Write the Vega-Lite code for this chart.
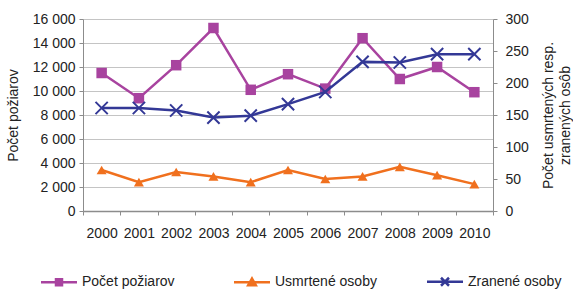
{
  "$schema": "https://vega.github.io/schema/vega-lite/v6.json",
  "width": 410,
  "height": 192,
  "padding": {"left": 6, "top": 12, "right": 0, "bottom": 0},
  "config": {
    "view": {"stroke": null},
    "font": "Liberation Sans",
    "axis": {
      "labelFont": "Liberation Sans",
      "labelFontSize": 14,
      "labelColor": "#222222",
      "titleFont": "Liberation Sans",
      "titleFontSize": 14,
      "titleFontWeight": "normal",
      "titleColor": "#222222",
      "domainColor": "#8c8c8c",
      "tickColor": "#8c8c8c",
      "gridColor": "#c4c4c4"
    },
    "legend": {
      "orient": "none",
      "legendX": -35.5,
      "legendY": 251,
      "direction": "horizontal",
      "gridAlign": "all",
      "symbolSize": 400,
      "symbolStrokeWidth": 2.5,
      "symbolOpacity": 1,
      "labelFont": "Liberation Sans",
      "labelFontSize": 14,
      "labelColor": "#222222",
      "columnPadding": 44,
      "labelOffset": 11.5,
      "padding": 0
    }
  },
  "data": {
    "values": [
      {"year": "2000", "series": "Počet požiarov", "value": 11500},
      {"year": "2001", "series": "Počet požiarov", "value": 9400},
      {"year": "2002", "series": "Počet požiarov", "value": 12150},
      {"year": "2003", "series": "Počet požiarov", "value": 15250},
      {"year": "2004", "series": "Počet požiarov", "value": 10100},
      {"year": "2005", "series": "Počet požiarov", "value": 11400},
      {"year": "2006", "series": "Počet požiarov", "value": 10200},
      {"year": "2007", "series": "Počet požiarov", "value": 14400},
      {"year": "2008", "series": "Počet požiarov", "value": 11000},
      {"year": "2009", "series": "Počet požiarov", "value": 12000},
      {"year": "2010", "series": "Počet požiarov", "value": 9900},
      {"year": "2000", "series": "Usmrtené osoby", "value": 64},
      {"year": "2001", "series": "Usmrtené osoby", "value": 45},
      {"year": "2002", "series": "Usmrtené osoby", "value": 61},
      {"year": "2003", "series": "Usmrtené osoby", "value": 54},
      {"year": "2004", "series": "Usmrtené osoby", "value": 45},
      {"year": "2005", "series": "Usmrtené osoby", "value": 64},
      {"year": "2006", "series": "Usmrtené osoby", "value": 50},
      {"year": "2007", "series": "Usmrtené osoby", "value": 54},
      {"year": "2008", "series": "Usmrtené osoby", "value": 69},
      {"year": "2009", "series": "Usmrtené osoby", "value": 56},
      {"year": "2010", "series": "Usmrtené osoby", "value": 42},
      {"year": "2000", "series": "Zranené osoby", "value": 161},
      {"year": "2001", "series": "Zranené osoby", "value": 161},
      {"year": "2002", "series": "Zranené osoby", "value": 157},
      {"year": "2003", "series": "Zranené osoby", "value": 146},
      {"year": "2004", "series": "Zranené osoby", "value": 149},
      {"year": "2005", "series": "Zranené osoby", "value": 167},
      {"year": "2006", "series": "Zranené osoby", "value": 186},
      {"year": "2007", "series": "Zranené osoby", "value": 233},
      {"year": "2008", "series": "Zranené osoby", "value": 232},
      {"year": "2009", "series": "Zranené osoby", "value": 245},
      {"year": "2010", "series": "Zranené osoby", "value": 245}
    ]
  },
  "encoding": {
    "x": {
      "field": "year",
      "type": "ordinal",
      "scale": {"type": "band", "paddingInner": 0, "paddingOuter": 0},
      "axis": {"title": null, "labelAngle": 0, "tickBand": "extent", "tickSize": 4, "labelPadding": 11, "domainWidth": 1.5}
    }
  },
  "layer": [
    {
      "transform": [{"filter": "datum.series === 'Počet požiarov'"}],
      "encoding": {
        "y": {
          "field": "value",
          "type": "quantitative",
          "scale": {"domain": [0, 16000]},
          "axis": {
            "title": "Počet požiarov",
            "values": [0, 2000, 4000, 6000, 8000, 10000, 12000, 14000, 16000],
            "labelExpr": "replace(format(datum.value, ','), ',', ' ')",
            "grid": true,
            "tickSize": 4,
            "labelPadding": 4,
            "titlePadding": 12
          }
        }
      },
      "layer": [
        {"mark": {"type": "line", "strokeWidth": 2.5, "color": "#a8439f"}},
        {"mark": {"type": "point", "shape": "square", "filled": true, "size": 110, "opacity": 1, "color": "#a8439f"}}
      ]
    },
    {
      "transform": [{"filter": "datum.series !== 'Počet požiarov'"}],
      "encoding": {
        "y": {
          "field": "value",
          "type": "quantitative",
          "scale": {"domain": [0, 300]},
          "axis": {
            "orient": "right",
            "title": ["Počet usmrtených resp.", "zranených osôb"],
            "titleAngle": 270,
            "titleLineHeight": 17,
            "values": [0, 50, 100, 150, 200, 250, 300],
            "grid": false,
            "tickSize": 4,
            "labelPadding": 8,
            "titlePadding": 10
          }
        }
      },
      "layer": [
        {
          "transform": [{"filter": "datum.series === 'Usmrtené osoby'"}],
          "layer": [
            {"mark": {"type": "line", "strokeWidth": 2.5, "color": "#f0701e"}},
            {"mark": {"type": "point", "shape": "triangle-up", "filled": true, "size": 100, "opacity": 1, "color": "#f0701e"}}
          ]
        },
        {
          "transform": [{"filter": "datum.series === 'Zranené osoby'"}],
          "layer": [
            {"mark": {"type": "line", "strokeWidth": 2.5, "color": "#333896"}},
            {"mark": {"type": "point", "shape": "M-1,-1L1,1M-1,1L1,-1", "filled": false, "size": 150, "strokeWidth": 2, "opacity": 1, "color": "#333896"}}
          ]
        }
      ]
    },
    {
      "mark": {"type": "point", "filled": true, "opacity": 0},
      "encoding": {
        "y": {"field": "value", "type": "quantitative", "axis": null},
        "color": {
          "field": "series",
          "type": "nominal",
          "title": null,
          "scale": {"domain": ["Počet požiarov", "Usmrtené osoby", "Zranené osoby"], "range": ["#a8439f", "#f0701e", "#333896"]}
        },
        "stroke": {
          "field": "series",
          "type": "nominal",
          "title": null,
          "scale": {"domain": ["Počet požiarov", "Usmrtené osoby", "Zranené osoby"], "range": ["#a8439f", "#f0701e", "#333896"]}
        },
        "shape": {
          "field": "series",
          "type": "nominal",
          "title": null,
          "scale": {
            "domain": ["Počet požiarov", "Usmrtené osoby", "Zranené osoby"],
            "range": [
              "M-1.8,0H1.8M-0.3,-0.3H0.3V0.3H-0.3Z",
              "M-1.8,0H1.8M0,-0.38L0.38,0.28H-0.38Z",
              "M-1.8,0H1.8M-0.4,-0.4L0.4,0.4M-0.4,0.4L0.4,-0.4"
            ]
          }
        }
      }
    }
  ],
  "resolve": {"scale": {"y": "independent"}}
}
